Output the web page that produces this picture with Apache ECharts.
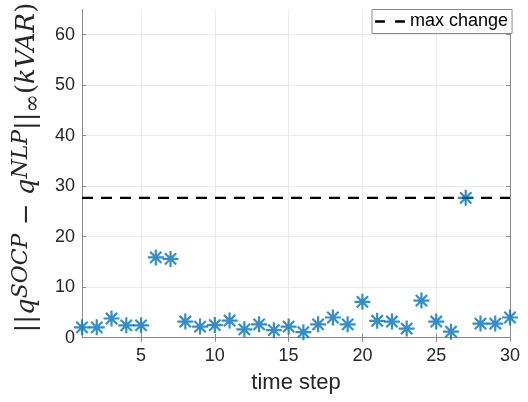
<!DOCTYPE html>
<html>
<head>
<meta charset="utf-8">
<script src="https://cdn.jsdelivr.net/npm/echarts@6/dist/echarts.min.js"></script>
<style>
  html, body { margin: 0; padding: 0; background: #ffffff; }
  #chart { width: 528px; height: 402px; }
</style>
</head>
<body>
<div id="chart"></div>
<script>
// Time steps and the per-step infinity-norm gap between SOCP and NLP reactive power
const timeSteps = [1, 2, 3, 4, 5, 6, 7, 8, 9, 10, 11, 12, 13, 14, 15,
                   16, 17, 18, 19, 20, 21, 22, 23, 24, 25, 26, 27, 28, 29, 30];
const qDiff = [2.05, 2.05, 3.8, 2.45, 2.45, 15.9, 15.6, 3.2, 2.2, 2.5,
               3.4, 1.65, 2.65, 1.5, 2.2, 1.1, 2.65, 4.0, 2.65, 7.1,
               3.35, 3.2, 1.8, 7.35, 3.2, 1.2, 27.7, 2.8, 2.8, 4.0];
// Largest allowed change, drawn as a dashed reference line
const maxChange = 27.7;
const maxChangeName = 'max change';

// Tick labels
const xTicks = [5, 10, 15, 20, 25, 30];
const yTicks = [0, 10, 20, 30, 40, 50, 60];

const textColor = '#262626';
const boxColor = '#8a8a8a';
const gridColor = '#ebebeb';
const markerColor = '#0072BD';
const sansFont = '"Liberation Sans", Arial, Helvetica, sans-serif';
const serifFont = '"DejaVu Serif", "Liberation Serif", serif';

// Eight-armed asterisk marker
const asterisk = 'path://M0,-10L0,10M-10,0L10,0M-7.07,-7.07L7.07,7.07M-7.07,7.07L7.07,-7.07';
// Two short bars, the legend swatch of a dashed line
const dashIcon = 'path://M0,0H10V2.6H0Z M20,0H30V2.6H20Z';

const chart = echarts.init(document.getElementById('chart'), null, { renderer: 'canvas' });

const tickCommon = { show: true, inside: true, length: 4, lineStyle: { color: boxColor, width: 1 } };

const option = {
  animation: false,
  backgroundColor: '#ffffff',
  grid: { left: 82, right: 18, top: 9.5, bottom: 64.3, containLabel: false, outerBoundsMode: 'none' },
  legend: {
    data: [{ name: maxChangeName, icon: dashIcon }],
    left: 372,
    top: 9.5,
    padding: [3, 4, 3, 3],
    itemWidth: 30,
    itemHeight: 2.6,
    symbolKeepAspect: false,
    backgroundColor: '#ffffff',
    borderColor: boxColor,
    borderWidth: 1,
    borderRadius: 0,
    itemStyle: { color: '#000000' },
    textStyle: { fontFamily: sansFont, fontSize: 18, color: '#000000', lineHeight: 18 }
  },
  xAxis: [
    {
      type: 'value',
      min: timeSteps[0],
      max: timeSteps[timeSteps.length - 1],
      name: 'time step',
      nameLocation: 'middle',
      nameGap: 34,
      nameTextStyle: { fontFamily: sansFont, fontSize: 22, color: textColor },
      axisLine: { show: true, lineStyle: { color: boxColor, width: 1 } },
      axisTick: Object.assign({ customValues: xTicks }, tickCommon),
      axisLabel: { customValues: xTicks, margin: 9, fontFamily: sansFont, fontSize: 18, color: textColor },
      splitLine: { show: true, lineStyle: { color: gridColor, width: 1 } }
    },
    {
      type: 'value',
      position: 'top',
      min: timeSteps[0],
      max: timeSteps[timeSteps.length - 1],
      axisLine: { show: true, lineStyle: { color: boxColor, width: 1 } },
      axisTick: Object.assign({ customValues: xTicks }, tickCommon),
      axisLabel: { show: false },
      splitLine: { show: false }
    }
  ],
  yAxis: [
    {
      type: 'value',
      min: 0,
      max: 65,
      interval: 10,
      name: '{n|||}{v|q}{sup|SOCP}{n| − }{v|q}{sup|NLP}{n|||}{sub|∞}{n|(}{v|kVAR}{n|)}',
      nameLocation: 'middle',
      nameRotate: 90,
      nameGap: 31,
      nameTextStyle: {
        color: textColor,
        padding: [0, 0, 0, 12],
        rich: {
          n: { fontFamily: serifFont, fontSize: 26, lineHeight: 34, color: textColor },
          v: { fontFamily: serifFont, fontStyle: 'italic', fontSize: 26, lineHeight: 34, color: textColor },
          sup: { fontFamily: serifFont, fontStyle: 'italic', fontSize: 22, lineHeight: 27, verticalAlign: 'top', color: textColor },
          sub: { fontFamily: serifFont, fontSize: 22, lineHeight: 17, verticalAlign: 'bottom', color: textColor }
        }
      },
      axisLine: { show: true, lineStyle: { color: boxColor, width: 1 } },
      axisTick: Object.assign({ customValues: yTicks }, tickCommon),
      axisLabel: { customValues: yTicks, margin: 7, fontFamily: sansFont, fontSize: 18, color: textColor },
      splitLine: { show: true, lineStyle: { color: gridColor, width: 1 } }
    },
    {
      type: 'value',
      position: 'right',
      min: 0,
      max: 65,
      interval: 10,
      axisLine: { show: true, lineStyle: { color: boxColor, width: 1 } },
      axisTick: Object.assign({ customValues: yTicks }, tickCommon),
      axisLabel: { show: false },
      splitLine: { show: false }
    }
  ],
  series: [
    {
      name: maxChangeName,
      type: 'line',
      xAxisIndex: 0,
      yAxisIndex: 0,
      data: timeSteps.map(t => [t, maxChange]),
      symbol: 'none',
      lineStyle: { color: '#000000', width: 2.4, type: [11, 8] },
      itemStyle: { color: '#000000' },
      z: 2
    },
    {
      name: 'gap',
      type: 'scatter',
      xAxisIndex: 0,
      yAxisIndex: 0,
      data: timeSteps.map((t, i) => [t, qDiff[i]]),
      symbol: asterisk,
      symbolSize: 16,
      symbolKeepAspect: true,
      clip: false,
      itemStyle: { color: 'rgba(0,0,0,0)', borderColor: markerColor, borderWidth: 2.2 },
      z: 3
    }
  ]
};

chart.setOption(option);
</script>
</body>
</html>
